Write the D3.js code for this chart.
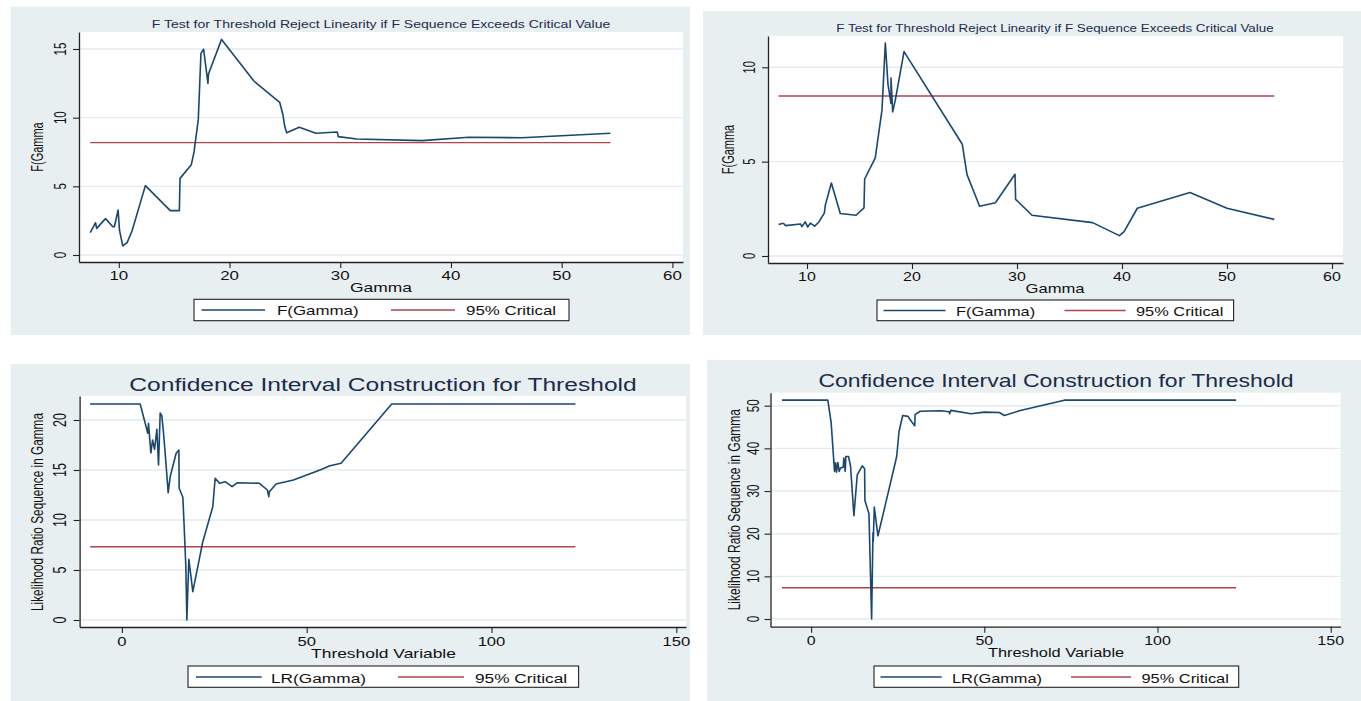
<!DOCTYPE html>
<html>
<head>
<meta charset="utf-8">
<script src="https://cdn.jsdelivr.net/npm/d3@7"></script>
<style>
body { margin: 0; background: #fff; }
text { font-family: "Liberation Sans", Arial, sans-serif; }
</style>
</head>
<body>
<svg id="chart" width="1361" height="701"></svg>
<script>
// ---- data ----
var gamma1 = [7.42, 7.66, 7.9, 8.0, 8.8, 9.46, 9.6, 9.94, 10.06, 10.36, 10.75, 11.2, 12.4, 14.65, 15.47, 15.53, 16.55, 16.8, 17.18, 17.42,
	17.66, 18.05, 18.1, 19.28, 22.2, 24.53, 24.83, 24.98, 25.16, 26.3, 27.8, 29.73, 29.82, 31.5, 37.4, 41.6, 46.4, 54.4];
var fStat1 = [1.63, 2.0, 2.35, 1.94, 2.65, 2.06, 2.06, 3.28, 1.82, 0.66, 0.9, 1.77, 5.05, 3.23, 3.23, 5.58, 6.58, 7.52, 9.88, 14.68,
	14.98, 12.5, 13.18, 15.7, 12.67, 11.12, 10.19, 9.39, 8.9, 9.3, 8.86, 8.96, 8.62, 8.45, 8.33, 8.57, 8.54, 8.86];
var crit1 = 8.18;

var gamma2 = [7.3, 7.62, 7.78, 7.94, 9.37, 9.52, 9.84, 10.06, 10.32, 10.73, 11.11, 11.65, 11.75, 12.32, 13.17, 14.67, 15.43, 15.49, 16.5, 17.14,
	17.46, 17.71, 18.0, 18.0, 18.16, 18.41, 19.24, 24.79, 25.24, 26.44, 27.94, 29.81, 29.87, 31.43, 37.2, 39.75, 40.2, 41.46, 46.47, 50.0, 54.5];
var fStat2 = [1.67, 1.72, 1.72, 1.61, 1.70, 1.56, 1.81, 1.54, 1.74, 1.58, 1.79, 2.27, 2.71, 3.87, 2.25, 2.16, 2.55, 4.08, 5.2, 7.73,
	11.28, 9.11, 8.09, 9.43, 7.64, 8.26, 10.83, 5.92, 4.31, 2.64, 2.82, 4.33, 3.0, 2.16, 1.77, 1.08, 1.29, 2.53, 3.36, 2.53, 1.94];
var crit2 = 8.48;

var gamma3 = [-8.6, 4.95, 7.0, 7.2, 7.84, 8.3, 8.83, 9.46, 9.91, 10.36, 10.81, 11.26, 11.71, 12.52, 13.06, 14.68, 15.41, 15.5, 16.49, 16.85,
	17.3, 17.57, 18.11, 19.19, 21.89, 24.59, 25.23, 26.4, 27.93, 29.82, 31.26, 37.2, 39.37, 39.73, 39.91, 41.71, 46.4, 50.0, 53.6, 56.3,
	59.3, 73.0, 122.7];
var lr3 = [21.6, 21.6, 18.67, 19.67, 16.7, 18.0, 17.07, 19.07, 15.5, 20.7, 20.4, 18.7, 16.67, 12.73, 14.33, 16.67, 17.0, 13.17, 12.27, 9.33,
	5.33, 0, 6.07, 2.83, 7.83, 11.33, 14.17, 13.67, 13.83, 13.33, 13.73, 13.67, 13.0, 12.33, 12.83, 13.6, 14.0, 14.5, 15.0, 15.43,
	15.67, 21.6, 21.6];
var crit3 = 7.33;

var gamma4 = [-8.4, 4.83, 5.8, 6.76, 7.05, 7.34, 7.72, 8.11, 8.49, 9.27, 9.46, 9.85, 10.04, 10.81, 11.39, 12.36, 13.32, 14.77, 15.44, 15.54,
	16.7, 17.47, 17.86, 17.95, 18.24, 19.3, 22.0, 24.71, 25.39, 26.45, 27.99, 28.96, 29.92, 30.02, 31.47, 37.45, 39.86, 39.96, 40.35, 46.14,
	50.0, 54.34, 55.79, 60.1, 73.1, 122.7];
var lr4 = [51.3, 51.3, 45.9, 34.6, 36.6, 34.4, 36.7, 34.6, 35.4, 35.6, 37.7, 34.6, 38.1, 38.1, 35.8, 24.2, 33.8, 35.9, 35.2, 27.8,
	24.7, 0, 20.2, 18.2, 26.25, 19.5, 28.75, 38.1, 44, 47.7, 47.5, 46.3, 45.3, 47.9, 48.7, 48.8, 48.6, 48.1, 48.9, 48.1,
	48.5, 48.4, 47.7, 48.8, 51.3, 51.3];
var crit4 = 7.34;

var gammaTicks = [10, 20, 30, 40, 50, 60];
var thresholdTicks = [0, 50, 100, 150];
var fTicks1 = [0, 5, 10, 15];
var fTicks2 = [0, 5, 10];
var lrTicks3 = [0, 5, 10, 15, 20];
var lrTicks4 = [0, 10, 20, 30, 40, 50];

var fTitle = "F Test for Threshold Reject Linearity if F Sequence Exceeds Critical Value";
var ciTitle = "Confidence Interval Construction for Threshold";
var legendF = ["F(Gamma)", "95% Critical"];
var legendLR = ["LR(Gamma)", "95% Critical"];

// ---- look ----
var SX = 1.3;   // the picture is stretched sideways, so is its text
var RSX = 1.45; // rotated labels look a bit heavier still
var BG = "#e8eff1", GRID = "#e2ebee", NAVY = "#1a476f", RED = "#b0444f", INK = "#111", TITLE_INK = "#1c2b4b";

var svg = d3.select("#chart");

function label(g, x, y, str, size, anchor, rot, fill) {
	var k = rot ? RSX : SX;
	g.append("text")
		.attr("transform", "translate(" + x + "," + y + ") scale(" + k + ",1)" + (rot ? " rotate(" + rot + ")" : ""))
		.attr("text-anchor", anchor)
		.attr("font-size", size)
		.attr("fill", fill || INK)
		.text(str);
}

function drawPanel(p) {
	var g = svg.append("g");

	g.append("rect").attr("x", p.bg[0]).attr("y", p.bg[1])
		.attr("width", p.bg[2] - p.bg[0]).attr("height", p.bg[3] - p.bg[1]).attr("fill", BG);
	g.append("rect").attr("x", p.plot[0]).attr("y", p.plot[2])
		.attr("width", p.plot[1] - p.plot[0]).attr("height", p.plot[3] - p.plot[2]).attr("fill", "#fff");

	// scales pinned on two tick positions, then stretched to the plot edges
	var xs = d3.scaleLinear().domain(p.xPin).range(p.xPinPx);
	var ys = d3.scaleLinear().domain(p.yPin).range(p.yPinPx);
	var x = d3.scaleLinear().domain([xs.invert(p.plot[0]), xs.invert(p.plot[1])]).range([p.plot[0], p.plot[1]]);
	var y = d3.scaleLinear().domain([ys.invert(p.plot[3]), ys.invert(p.plot[2])]).range([p.plot[3], p.plot[2]]);

	g.selectAll("line.grid")
		.data(p.yTicks)
		.enter()
		.append("line")
		.attr("class", "grid")
		.attr("x1", p.plot[0]).attr("x2", p.plot[1])
		.attr("y1", function(d) { return y(d); }).attr("y2", function(d) { return y(d); })
		.attr("stroke", GRID).attr("stroke-width", 1.4);

	var xAxis = g.append("g").attr("transform", "translate(0," + p.plot[3] + ")")
		.call(d3.axisBottom(x).tickValues(p.xTicks).tickSize(6).tickSizeOuter(0).tickFormat(""));
	var yAxis = g.append("g").attr("transform", "translate(" + p.plot[0] + ",0)")
		.call(d3.axisLeft(y).tickValues(p.yTicks).tickSize(6).tickSizeOuter(0).tickFormat(""));
	[xAxis, yAxis].forEach(function(a) {
		a.select(".domain").attr("stroke", "#222").attr("stroke-width", 1.3);
		a.selectAll(".tick line").attr("stroke", "#222").attr("stroke-width", 1.1);
	});

	p.xTicks.forEach(function(d) { label(g, x(d), p.xTickBase, d, p.xTickSize, "middle"); });
	p.yTicks.forEach(function(d) { label(g, p.yTickBase, y(d), d, p.yTickSize, "middle", -90); });

	label(g, p.titlePos[0], p.titlePos[1], p.title, p.titleSize, "middle", 0, TITLE_INK);
	label(g, p.xLabelPos[0], p.xLabelPos[1], p.xLabel, p.xLabelSize, "middle");
	label(g, p.yLabelPos[0], p.yLabelPos[1], p.yLabel, p.yLabelSize, "middle", -90);

	var pts = d3.zip(p.xs, p.ys);
	var line = d3.line().x(function(d) { return x(d[0]); }).y(function(d) { return y(d[1]); });

	var lo = p.xs[0], hi = p.xs[p.xs.length - 1];
	g.append("path").datum([[lo, p.crit], [hi, p.crit]]).attr("d", line)
		.attr("fill", "none").attr("stroke", RED).attr("stroke-width", 1.4);
	g.append("path").datum(pts).attr("d", line)
		.attr("fill", "none").attr("stroke", NAVY).attr("stroke-width", 1.6).attr("stroke-linejoin", "round");

	// legend
	var L = p.legend;
	g.append("rect").attr("x", L.box[0]).attr("y", L.box[2])
		.attr("width", L.box[1] - L.box[0]).attr("height", L.box[3] - L.box[2])
		.attr("fill", "#fff").attr("stroke", "#222").attr("stroke-width", 1.1);
	[NAVY, RED].forEach(function(c, i) {
		g.append("line").attr("x1", L.lines[i][0]).attr("x2", L.lines[i][1])
			.attr("y1", L.lineY).attr("y2", L.lineY).attr("stroke", c).attr("stroke-width", 1.3);
		label(g, L.textX[i], L.base, p.legendText[i], L.size, "start");
	});
}

var panels = [
	{
		bg: [10.6, 6.7, 690, 335], plot: [79, 683, 32, 262],
		xPin: [10, 60], xPinPx: [118.8, 672.4], yPin: [0, 15], yPinPx: [255, 49],
		xTicks: gammaTicks, yTicks: fTicks1, xs: gamma1, ys: fStat1, crit: crit1,
		xTickBase: 279.5, xTickSize: 13, yTickBase: 66, yTickSize: 11.5,
		title: fTitle, titlePos: [381, 28], titleSize: 10.8,
		xLabel: "Gamma", xLabelPos: [381, 291.5], xLabelSize: 13.4,
		yLabel: "F(Gamma", yLabelPos: [43, 147], yLabelSize: 11,
		legendText: legendF,
		legend: { box: [194, 569, 299.3, 320.7], lines: [[201.5, 265], [391, 455]], textX: [277, 466], base: 315, lineY: 310, size: 13 }
	},
	{
		bg: [703, 11, 1361, 335], plot: [768, 1343, 36, 263],
		xPin: [10, 60], xPinPx: [807, 1332], yPin: [0, 10], yPinPx: [256, 67.3],
		xTicks: gammaTicks, yTicks: fTicks2, xs: gamma2, ys: fStat2, crit: crit2,
		xTickBase: 280.5, xTickSize: 12.3, yTickBase: 754.5, yTickSize: 11.2,
		title: fTitle, titlePos: [1055, 32], titleSize: 10.3,
		xLabel: "Gamma", xLabelPos: [1055, 292.5], xLabelSize: 12.8,
		yLabel: "F(Gamma", yLabelPos: [734, 149.5], yLabelSize: 11,
		legendText: legendF,
		legend: { box: [877, 1233.6, 300, 320.7], lines: [[883.5, 945.5], [1064.5, 1125.7]], textX: [956, 1136], base: 315.5, lineY: 310.5, size: 12.6 }
	},
	{
		bg: [10.6, 364, 690, 701], plot: [79.6, 686, 396, 627],
		xPin: [0, 150], xPinPx: [121.9, 676.3], yPin: [0, 20], yPinPx: [620, 420],
		xTicks: thresholdTicks, yTicks: lrTicks3, xs: gamma3, ys: lr3, crit: crit3,
		xTickBase: 646, xTickSize: 12.8, yTickBase: 66, yTickSize: 12.5,
		title: ciTitle, titlePos: [383, 391], titleSize: 18.9,
		xLabel: "Threshold Variable", xLabelPos: [383.5, 657.5], xLabelSize: 13.4,
		yLabel: "Likelihood Ratio Sequence in Gamma", yLabelPos: [43, 512], yLabelSize: 11.8,
		legendText: legendLR,
		legend: { box: [188, 578.6, 666, 687.3], lines: [[196, 261.7], [398, 464]], textX: [271, 475], base: 682.7, lineY: 677, size: 13.3 }
	},
	{
		bg: [707, 360, 1361, 701], plot: [770.5, 1340.6, 392.7, 626.7],
		xPin: [0, 150], xPinPx: [811.1, 1330.7], yPin: [0, 50], yPinPx: [619, 405.7],
		xTicks: thresholdTicks, yTicks: lrTicks4, xs: gamma4, ys: lr4, crit: crit4,
		xTickBase: 645.3, xTickSize: 12.3, yTickBase: 758.5, yTickSize: 11.8,
		title: ciTitle, titlePos: [1056, 386.7], titleSize: 17.7,
		xLabel: "Threshold Variable", xLabelPos: [1056, 657], xLabelSize: 12.6,
		yLabel: "Likelihood Ratio Sequence in Gamma", yLabelPos: [739.5, 509.7], yLabelSize: 12,
		legendText: legendLR,
		legend: { box: [874, 1238.7, 666, 687.3], lines: [[880.5, 941.7], [1071, 1131]], textX: [952, 1141.5], base: 682.7, lineY: 677, size: 12.6 }
	}
];

panels.forEach(drawPanel);
</script>
</body>
</html>
